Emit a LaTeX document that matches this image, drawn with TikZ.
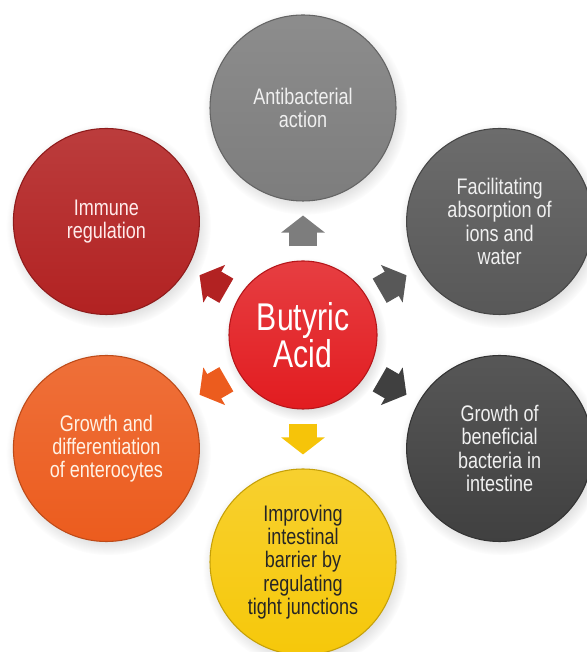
\documentclass[tikz,border=0pt]{standalone}
\usepackage{fontspec}
\setmainfont{Liberation Sans}[FakeStretch=0.8]
\newfontfamily\acidfont{Liberation Sans}[FakeStretch=0.78]
\usepackage{xcolor}
\usepackage{tikz}
\usetikzlibrary{arrows.meta,shapes,shadows}

\begin{document}
\begin{tikzpicture}[x=0.75pt,y=0.75pt]
    \definecolor{mygrayl}{RGB}{125,125,125}
    \definecolor{mygraym}{RGB}{88,88,88}
    \definecolor{mygrayd}{RGB}{64,64,64}
    \definecolor{mydarkred}{RGB}{178,34,34}
    \definecolor{myorange}{RGB}{236,92,30}
    \definecolor{myyellow}{RGB}{246,200,10}
    \definecolor{myred}{RGB}{226,28,32}
    \definecolor{mytext}{RGB}{240,240,240}

    \fill[white] (0,0) rectangle (586,652);
    \useasboundingbox (0,0) rectangle (586,652);  % 画布大小

    \tikzstyle{ball}=[circle,minimum size=139.5pt,inner sep=0pt,align=center,line width=0.8pt,
        circular drop shadow={shadow xshift=1.5pt,shadow yshift=-3pt,opacity=0.25},
        font=\fontsize{16.9}{17.4}\selectfont]  % 外圈的圆
    \tikzstyle{fat}=[line width=21pt,-{Triangle[length=12.75pt,width=32pt]},
        shorten <=10.5pt,shorten >=10.5pt]  % 粗箭头

    % 定义圆
    \node[ball,minimum size=111pt,top color=myred!85!white,bottom color=myred,draw=myred!80!black,
        text=white,font=\acidfont\fontsize{29}{27.75}\selectfont](acid) at (303,317){Butyric\\Acid};
    \node[ball,top color=mygrayl!88!white,bottom color=mygrayl,draw=mygrayl!80!black,text=mytext]
        (1) at (303,544){Antibacterial\\action};
    \node[ball,top color=mygraym!88!white,bottom color=mygraym,draw=mygraym!80!black,text=mytext]
        (2) at (499.6,430.5){Facilitating\\absorption of\\ions and\\water};
    \node[ball,top color=mygrayd!88!white,bottom color=mygrayd,draw=mygrayd!80!black,text=mytext]
        (3) at (499.6,203.5){Growth of\\beneficial\\bacteria in\\intestine};
    \node[ball,top color=myyellow!85!white,bottom color=myyellow,draw=myyellow!80!black,text=black!85]
        (4) at (303,90){Improving\\intestinal\\barrier by\\regulating\\tight junctions};
    \node[ball,top color=myorange!88!white,bottom color=myorange,draw=myorange!80!black,text=orange!10]
        (5) at (106.4,203.5){Growth and\\differentiation\\of enterocytes};
    \node[ball,top color=mydarkred!88!white,bottom color=mydarkred,draw=mydarkred!80!black,text=red!8]
        (6) at (106.4,430.5){Immune\\regulation};

    % 开始画箭头
    \draw[fat,mygrayl](acid)--(1);
    \draw[fat,mygraym](acid)--(2);
    \draw[fat,mygrayd](acid)--(3);
    \draw[fat,myyellow!95!orange](acid)--(4);
    \draw[fat,myorange](acid)--(5);
    \draw[fat,mydarkred](acid)--(6);
\end{tikzpicture}
\end{document}
